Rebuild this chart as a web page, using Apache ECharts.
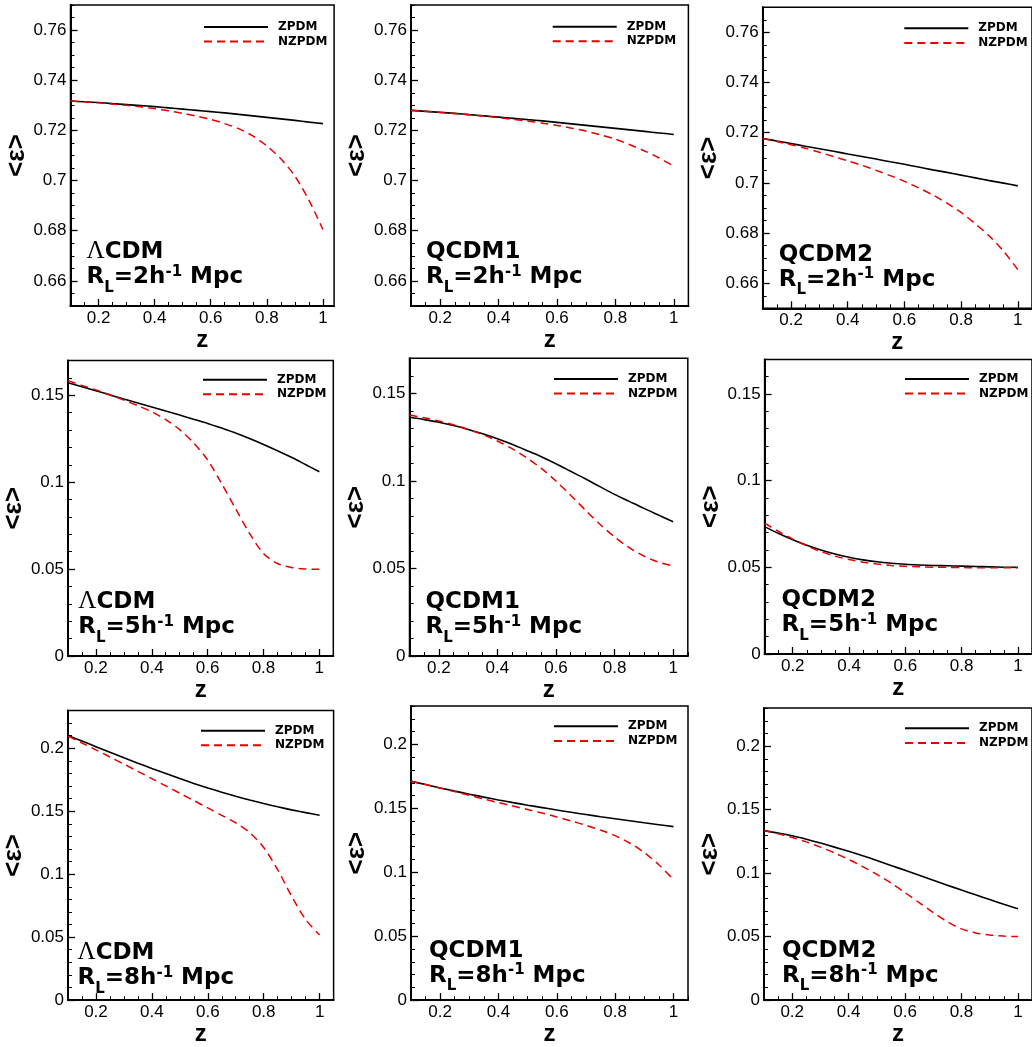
<!DOCTYPE html>
<html><head><meta charset="utf-8">
<script src="https://cdn.jsdelivr.net/npm/echarts@6/dist/echarts.min.js"></script>
<style>html,body{margin:0;padding:0;background:#fff}#c{width:1032px;height:1047px}</style>
</head><body><div id="c"></div>
<script>
// ---------------- DATA ----------------
const zValues = [0.1,0.15,0.2,0.25,0.3,0.35,0.4,0.45,0.5,0.55,0.6,0.65,0.7,0.75,0.8,0.85,0.9,0.95,1.0];

// R_L = 2 h^-1 Mpc
const lcdmR2_ZPDM  = [0.7317,0.7314,0.7311,0.7307,0.7303,0.7299,0.7295,0.7290,0.7285,0.7280,0.7275,0.7270,0.7264,0.7258,0.7252,0.7246,0.7240,0.7233,0.7227];
const lcdmR2_NZPDM = [0.7317,0.7314,0.7310,0.7305,0.7300,0.7294,0.7287,0.7278,0.7268,0.7257,0.7244,0.7227,0.7207,0.7178,0.7138,0.7087,0.7018,0.6922,0.6805];
const q1R2_ZPDM    = [0.7280,0.7276,0.7272,0.7268,0.7263,0.7258,0.7253,0.7248,0.7243,0.7238,0.7232,0.7226,0.7220,0.7214,0.7208,0.7202,0.7196,0.7190,0.7184];
const q1R2_NZPDM   = [0.7280,0.7276,0.7272,0.7267,0.7262,0.7257,0.7251,0.7244,0.7237,0.7229,0.7220,0.7209,0.7197,0.7182,0.7165,0.7143,0.7118,0.7090,0.7057];
const q2R2_ZPDM    = [0.7177,0.7167,0.7157,0.7146,0.7136,0.7126,0.7115,0.7105,0.7095,0.7084,0.7074,0.7063,0.7052,0.7042,0.7031,0.7020,0.7009,0.6999,0.6988];
const q2R2_NZPDM   = [0.7177,0.7165,0.7152,0.7138,0.7122,0.7105,0.7088,0.7070,0.7050,0.7029,0.7006,0.6980,0.6952,0.6919,0.6882,0.6837,0.6787,0.6727,0.6654];

// R_L = 5 h^-1 Mpc
const lcdmR5_ZPDM  = [0.1572,0.1549,0.1526,0.1502,0.1478,0.1455,0.1432,0.1409,0.1386,0.1362,0.1338,0.1311,0.1283,0.1251,0.1217,0.1181,0.1143,0.1102,0.1060];
const lcdmR5_NZPDM = [0.1584,0.1557,0.1531,0.1503,0.1472,0.1440,0.1405,0.1360,0.1302,0.1226,0.1128,0.0992,0.0848,0.0706,0.0590,0.0532,0.0509,0.0501,0.0499];
const q1R5_ZPDM    = [0.1363,0.1350,0.1335,0.1316,0.1294,0.1269,0.1241,0.1209,0.1174,0.1138,0.1098,0.1055,0.1012,0.0967,0.0923,0.0883,0.0843,0.0805,0.0767];
const q1R5_NZPDM   = [0.1376,0.1360,0.1342,0.1320,0.1294,0.1264,0.1228,0.1184,0.1132,0.1071,0.0999,0.0918,0.0834,0.0752,0.0680,0.0619,0.0571,0.0536,0.0515];
const q2R5_ZPDM    = [0.0735,0.0695,0.0659,0.0627,0.0600,0.0577,0.0558,0.0543,0.0532,0.0524,0.0518,0.0514,0.0511,0.0509,0.0507,0.0505,0.0503,0.0501,0.0500];
const q2R5_NZPDM   = [0.0755,0.0707,0.0663,0.0624,0.0591,0.0565,0.0545,0.0530,0.0519,0.0511,0.0506,0.0503,0.0501,0.0500,0.0499,0.0498,0.0498,0.0497,0.0497];

// R_L = 8 h^-1 Mpc
const lcdmR8_ZPDM  = [0.2101,0.2057,0.2013,0.1969,0.1925,0.1882,0.1840,0.1799,0.1759,0.1721,0.1685,0.1651,0.1619,0.1589,0.1561,0.1535,0.1511,0.1489,0.1468];
const lcdmR8_NZPDM = [0.2096,0.2042,0.1987,0.1931,0.1874,0.1817,0.1759,0.1701,0.1643,0.1585,0.1526,0.1467,0.1407,0.1330,0.1212,0.1035,0.0825,0.0640,0.0517];
const q1R8_ZPDM    = [0.1712,0.1686,0.1660,0.1635,0.1611,0.1588,0.1566,0.1545,0.1525,0.1506,0.1487,0.1469,0.1452,0.1435,0.1419,0.1403,0.1387,0.1372,0.1357];
const q1R8_NZPDM   = [0.1712,0.1686,0.1659,0.1631,0.1602,0.1573,0.1545,0.1518,0.1491,0.1463,0.1433,0.1401,0.1367,0.1330,0.1287,0.1229,0.1154,0.1059,0.0943];
const q2R8_ZPDM    = [0.1335,0.1316,0.1294,0.1267,0.1237,0.1205,0.1172,0.1137,0.1100,0.1061,0.1022,0.0983,0.0944,0.0905,0.0867,0.0829,0.0792,0.0755,0.0719];
const q2R8_NZPDM   = [0.1335,0.1310,0.1281,0.1246,0.1205,0.1159,0.1108,0.1052,0.0990,0.0922,0.0847,0.0767,0.0689,0.0617,0.0561,0.0529,0.0513,0.0504,0.0500];

// tick labels
const xTickLabels = [0.2,0.4,0.6,0.8,1];
const yTicksR2 = [0.66,0.68,0.7,0.72,0.74,0.76];
const yTicksR5 = [0,0.05,0.1,0.15];
const yTicksR8 = [0,0.05,0.1,0.15,0.2];

const seriesNames = ['ZPDM','NZPDM'];
const modelNames = ['CDM','QCDM1','QCDM2'];
const radiusLabels = ['2','5','8'];

// ---------------- LAYOUT ----------------
const panels = [
  {left:70.5, top:5,     width:263.6, height:301,   xMax:1.04, yMin:0.65, yMax:0.77, yTicks:yTicksR2, yStep:0.005, d:[lcdmR2_ZPDM,lcdmR2_NZPDM], m:0, r:0, lg:[203,21],   ax:16},
  {left:411,  top:5,     width:277.4, height:301,   xMax:1.05, yMin:0.65, yMax:0.77, yTicks:yTicksR2, yStep:0.005, d:[q1R2_ZPDM,q1R2_NZPDM],     m:1, r:0, lg:[551.7,20.7], ax:15},
  {left:762.7,top:7.3,   width:275,   height:301,   xMax:1.05, yMin:0.65, yMax:0.77, yTicks:yTicksR2, yStep:0.005, d:[q2R2_ZPDM,q2R2_NZPDM],     m:2, r:0, lg:[903.3,22.3], ax:16},
  {left:65.3, top:360.5, width:268,   height:295.5, xMax:1.05, yMin:0,    yMax:0.17, yTicks:yTicksR5, yStep:0.01,  d:[lcdmR5_ZPDM,lcdmR5_NZPDM], m:0, r:1, lg:[202,373.7], ax:13},
  {left:409.5,top:358.3, width:278.3, height:297.7, xMax:1.05, yMin:0,    yMax:0.17, yTicks:yTicksR5, yStep:0.01,  d:[q1R5_ZPDM,q1R5_NZPDM],     m:1, r:1, lg:[553,373],   ax:16},
  {left:764.6,top:359.4, width:273.1, height:294.6, xMax:1.05, yMin:0,    yMax:0.17, yTicks:yTicksR5, yStep:0.01,  d:[q2R5_ZPDM,q2R5_NZPDM],     m:2, r:1, lg:[904,373],   ax:17},
  {left:62.5, top:710.5, width:271.1, height:296.2, xMax:1.05, yMin:0,    yMax:0.23, yTicks:yTicksR8, yStep:0.01,  d:[lcdmR8_ZPDM,lcdmR8_NZPDM], m:0, r:2, lg:[200,724.7], ax:15},
  {left:411,  top:706.1, width:277,   height:298.2, xMax:1.05, yMin:0,    yMax:0.23, yTicks:yTicksR8, yStep:0.01,  d:[q1R8_ZPDM,q1R8_NZPDM],     m:1, r:2, lg:[553,720.3], ax:18},
  {left:764,  top:708.1, width:273.7, height:296.2, xMax:1.05, yMin:0,    yMax:0.23, yTicks:yTicksR8, yStep:0.01,  d:[q2R8_ZPDM,q2R8_NZPDM],     m:2, r:2, lg:[904,722.3], ax:18}
];

const RED = 'rgb(232,0,0)';
const TICK_FONT = '"Liberation Sans", Arial, sans-serif';

function steps(a, b, s, exclude) {
  const out = [];
  const n = Math.round((b - a) / s);
  for (let k = 0; k <= n; k++) {
    const v = Math.round((a + k * s) * 10000) / 10000;
    if (!exclude.some(e => Math.abs(e - v) < 1e-9)) out.push(v);
  }
  return out;
}

const measureCtx = document.createElement('canvas').getContext('2d');
function textW(t, font) { measureCtx.font = font; return measureCtx.measureText(t).width; }

function richLine(x, baseline, parts) {
  const els = [];
  let cx = x;
  parts.forEach(p => {
    els.push({
      type: 'text', silent: true, z: 50,
      style: {
        text: p.t, x: cx, y: baseline + (p.dy || 0) - 0.33 * p.size,
        font: p.font, fill: '#000',
        align: 'left', verticalAlign: 'middle',
        textAlign: 'left', textVerticalAlign: 'middle'
      }
    });
    cx += textW(p.t, p.font);
  });
  return els;
}

const MAIN_FONT = 'bold 23px "DejaVu Sans"';
const SMALL_FONT = 'bold 15px "DejaVu Sans"';
const LAMBDA_FONT = 'normal 25px "Liberation Serif"';

const grid = [], xAxis = [], yAxis = [], series = [], legend = [], graphic = [];

panels.forEach((p, i) => {
  grid.push({left:p.left, top:p.top, width:p.width, height:p.height, show:true,
    borderColor:'#000', borderWidth:1.5, backgroundColor:'transparent', containLabel:false});

  const xMinor = steps(0.1, p.xMax, 0.05, xTickLabels);
  const yMinor = steps(p.yMin, p.yMax, p.yStep, p.yTicks);

  xAxis.push({
    gridIndex:i, type:'value', min:0.1, max:p.xMax, position:'bottom',
    axisLine:{show:true, onZero:false, lineStyle:{color:'#000', width:2}},
    axisTick:{show:true, inside:true, length:7, customValues:xTickLabels, lineStyle:{color:'#000', width:1.3}},
    axisLabel:{show:true, customValues:xTickLabels, color:'#000', fontSize:17, fontFamily:TICK_FONT, margin:4},
    splitLine:{show:false},
    name:'z', nameLocation:'middle', nameGap:12,
    nameTextStyle:{color:'#000', fontWeight:'bold', fontSize:24, fontFamily:TICK_FONT}
  });
  xAxis.push({
    gridIndex:i, type:'value', min:0.1, max:p.xMax, position:'bottom',
    axisLine:{show:false, onZero:false},
    axisTick:{show:true, inside:true, length:4, customValues:xMinor, lineStyle:{color:'#000', width:1}},
    axisLabel:{show:false}, splitLine:{show:false}
  });
  yAxis.push({
    gridIndex:i, type:'value', min:p.yMin, max:p.yMax, position:'left',
    axisLine:{show:true, onZero:false, lineStyle:{color:'#000', width:2}},
    axisTick:{show:true, inside:true, length:7, customValues:p.yTicks, lineStyle:{color:'#000', width:1.3}},
    axisLabel:{show:true, customValues:p.yTicks, color:'#000', fontSize:17, fontFamily:TICK_FONT, margin:4},
    splitLine:{show:false},
    name:'<ε>', nameLocation:'middle', nameGap:37, nameRotate:90,
    nameTextStyle:{color:'#000', fontWeight:'bold', fontSize:26, fontFamily:TICK_FONT}
  });
  yAxis.push({
    gridIndex:i, type:'value', min:p.yMin, max:p.yMax, position:'left',
    axisLine:{show:false, onZero:false},
    axisTick:{show:true, inside:true, length:4, customValues:yMinor, lineStyle:{color:'#000', width:1}},
    axisLabel:{show:false}, splitLine:{show:false}
  });

  p.d.forEach((arr, s) => {
    series.push({
      type:'line', name:seriesNames[s], xAxisIndex:2*i, yAxisIndex:2*i,
      data: zValues.map((zz, k) => [zz, arr[k]]),
      symbol:'none', showSymbol:false, smooth:0.3,
      silent:true, animation:false, z: s === 0 ? 3 : 4,
      lineStyle: s === 0 ? {color:'#000', width:1.6, type:'solid'}
                         : {color:RED, width:1.5, type:[8,5]},
      itemStyle:{color: s === 0 ? '#000' : RED}
    });
  });

  legend.push({
    data:seriesNames, orient:'vertical', left:p.lg[0], top:p.lg[1],
    itemWidth:64, itemHeight:14, itemGap:2.6, padding:0, selectedMode:false,
    itemStyle:{opacity:0, borderWidth:0},
    textStyle:{color:'#000', fontWeight:'bold', fontSize:12, fontFamily:'"DejaVu Sans"', padding:[0,0,0,5]}
  });

  const ax = p.left + p.ax;
  const bottom = p.top + p.height;
  const line1 = p.m === 0
    ? [{t:'Λ', font:LAMBDA_FONT, size:25}, {t:modelNames[0], font:MAIN_FONT, size:23}]
    : [{t:modelNames[p.m], font:MAIN_FONT, size:23}];
  const line2 = [
    {t:'R', font:MAIN_FONT, size:23},
    {t:'L', font:SMALL_FONT, size:15, dy:8},
    {t:'=' + radiusLabels[p.r] + 'h', font:MAIN_FONT, size:23},
    {t:'-1', font:SMALL_FONT, size:15, dy:-8},
    {t:' Mpc', font:MAIN_FONT, size:23}
  ];
  richLine(ax, bottom - 46, line1).forEach(e => graphic.push(e));
  richLine(ax, bottom - 21, line2).forEach(e => graphic.push(e));
});

const chart = echarts.init(document.getElementById('c'), null, {renderer:'canvas'});
chart.setOption({
  animation:false, backgroundColor:'#fff',
  grid, xAxis, yAxis, series, legend, graphic
});
</script>
</body></html>
